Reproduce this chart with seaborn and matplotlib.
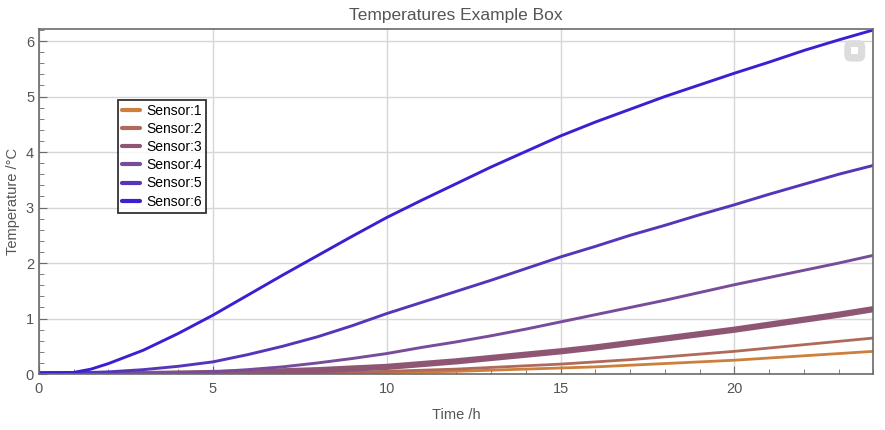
import numpy as np
import pandas as pd
import matplotlib
matplotlib.use('Agg')
import matplotlib.pyplot as plt
from matplotlib.patches import FancyBboxPatch
from matplotlib.ticker import MultipleLocator
import seaborn as sns

# values (hours, degC)
hours = [0, 1, 1.5, 2, 3, 4, 5, 6, 7, 8, 9, 10, 11, 12, 13, 14, 15, 16, 17, 18, 19, 20, 21, 22, 23, 24]
sensor1 = [0.0, 0.0, 0.0, 0.0, 0.0, 0.0, 0.0, 0.01, 0.01, 0.01, 0.02, 0.03, 0.04, 0.05, 0.07, 0.09, 0.11, 0.13, 0.16, 0.19, 0.22, 0.25, 0.29, 0.33, 0.37, 0.41]
sensor2 = [0.0, 0.0, 0.0, 0.0, 0.0, 0.0, 0.0, 0.01, 0.01, 0.02, 0.03, 0.05, 0.07, 0.09, 0.12, 0.15, 0.18, 0.22, 0.26, 0.31, 0.36, 0.41, 0.47, 0.53, 0.59, 0.65]
sensor3 = [0.0, 0.0, 0.0, 0.0, 0.0, 0.01, 0.02, 0.03, 0.05, 0.07, 0.10, 0.13, 0.18, 0.23, 0.29, 0.35, 0.41, 0.48, 0.56, 0.64, 0.72, 0.80, 0.89, 0.98, 1.07, 1.17]
sensor4 = [0.01, 0.01, 0.01, 0.01, 0.01, 0.02, 0.04, 0.08, 0.13, 0.20, 0.28, 0.37, 0.48, 0.58, 0.69, 0.81, 0.94, 1.07, 1.20, 1.33, 1.47, 1.61, 1.74, 1.87, 2.00, 2.14]
sensor5 = [0.02, 0.02, 0.03, 0.04, 0.08, 0.14, 0.22, 0.35, 0.50, 0.67, 0.87, 1.09, 1.29, 1.49, 1.69, 1.90, 2.11, 2.30, 2.50, 2.68, 2.87, 3.05, 3.24, 3.42, 3.60, 3.76]
sensor6 = [0.02, 0.03, 0.09, 0.19, 0.43, 0.73, 1.06, 1.42, 1.78, 2.13, 2.48, 2.82, 3.13, 3.43, 3.73, 4.01, 4.29, 4.54, 4.77, 5.00, 5.21, 5.42, 5.62, 5.83, 6.02, 6.20]

names = ['Sensor:1', 'Sensor:2', 'Sensor:3', 'Sensor:4', 'Sensor:5', 'Sensor:6']
colors = ['#cd7f3c', '#b06a5a', '#8e5672', '#774c9a', '#5636b8', '#3a20d2']
widths = [2, 2, 4.5, 2.1, 2.1, 2.1]

df = pd.DataFrame({'hours': hours, 'Sensor:1': sensor1, 'Sensor:2': sensor2,
                   'Sensor:3': sensor3, 'Sensor:4': sensor4,
                   'Sensor:5': sensor5, 'Sensor:6': sensor6})
long = df.melt(id_vars='hours', var_name='sensor', value_name='temp')

sns.set_style('white')
plt.rcParams['font.family'] = ['Liberation Sans', 'DejaVu Sans']

fig = plt.figure(figsize=(8.85, 4.30), dpi=100)
ax = fig.add_axes([0.044, 0.130, 0.943, 0.803])

for name, col, lw in zip(names, colors, widths):
    sns.lineplot(data=long[long.sensor == name], x='hours', y='temp',
                 color=col, linewidth=lw, label=name, ax=ax)

ax.set_xlim(0, 24)
ax.set_ylim(0, 6.22)
ax.xaxis.set_major_locator(MultipleLocator(5))
ax.xaxis.set_minor_locator(MultipleLocator(1))
ax.yaxis.set_major_locator(MultipleLocator(1))
ax.yaxis.set_minor_locator(MultipleLocator(0.2))
ax.grid(True, which='major', color='#d6d6d6', linewidth=1)
ax.set_axisbelow(True)
for s in ax.spines.values():
    s.set_color('#6b6b6b')
    s.set_linewidth(1.2)
ax.tick_params(which='both', bottom=True, left=True, direction='in', color='#6b6b6b')
ax.tick_params(which='major', length=6, labelcolor='#555555', labelsize=10.5)
ax.tick_params(which='minor', length=3.5)
ax.tick_params(axis='x', pad=6)

ax.set_xlabel('Time /h', color='#555555', fontsize=10.5, labelpad=8)
ax.set_ylabel('Temperature /°C', color='#555555', fontsize=10.5, labelpad=4)
ax.set_title('Temperatures Example Box', color='#555555', fontsize=12.5, pad=6)

leg = ax.legend(loc='upper left', bbox_to_anchor=(0.095, 0.795), fontsize=10,
                frameon=True, fancybox=False, handlelength=1.3, handletextpad=0.4,
                borderpad=0.3, labelspacing=0.3, borderaxespad=0)
leg.get_frame().set_edgecolor('black')
leg.get_frame().set_linewidth(1.3)
for t in leg.get_texts():
    t.set_color('black')
for h in leg.get_lines():
    h.set_linewidth(3)

# little box button in the corner
ax.add_patch(FancyBboxPatch((0.965, 0.905), 0.025, 0.062, transform=ax.transAxes,
                            boxstyle='round,pad=0,rounding_size=0.008',
                            mutation_aspect=2.4,
                            facecolor='#dcdcdc', edgecolor='none', zorder=5))
ax.add_patch(plt.Rectangle((0.9735, 0.926), 0.008, 0.02, transform=ax.transAxes,
                           facecolor='white', edgecolor='none', zorder=6))

fig.savefig('out.png', dpi=100)
